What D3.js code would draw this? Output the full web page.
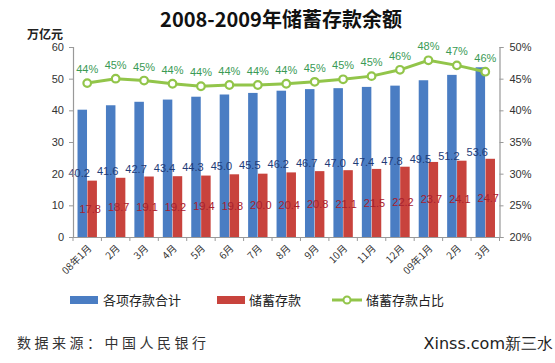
<!DOCTYPE html>
<html><head><meta charset="utf-8">
<script src="https://cdn.jsdelivr.net/npm/d3@7"></script>
<style>
body{margin:0;background:#fff;}
svg{display:block;font-family:"Liberation Sans",Arial,sans-serif;}
</style></head>
<body><svg id="c" width="555" height="363"></svg>
<script>
const categories = ["08年1月","2月","3月","4月","5月","6月","7月","8月","9月","10月","11月","12月","09年1月","2月","3月"];
const totalDeposits = [40.2,41.6,42.7,43.4,44.3,45.0,45.5,46.2,46.7,47.0,47.4,47.8,49.5,51.2,53.6];
const savingsDeposits = [17.8,18.7,19.1,19.2,19.4,19.8,20.0,20.4,20.8,21.1,21.5,22.2,23.7,24.1,24.7];
const savingsShare = [44.3,45.0,44.7,44.2,43.8,44.0,44.0,44.2,44.5,44.9,45.4,46.4,47.9,47.1,46.1];
const shareLabels = ["44%","45%","45%","44%","44%","44%","44%","44%","45%","45%","45%","46%","48%","47%","46%"];
const leftTicks = [0,10,20,30,40,50,60];
const rightTicks = [20,25,30,35,40,45,50];

const svg = d3.select("#c");
const L = 73, R = 499.5, T = 47, B = 237;
const idx = categories.map((c,i)=>i);
const x = d3.scaleBand().domain(idx).range([L,R]);
const yL = d3.scaleLinear().domain([0,60]).range([B,T]);
const yR = d3.scaleLinear().domain([20,50]).range([B,T]);
const blue = "#4A7DC3", red = "#C8433D", green = "#92C54A";
const bw = 9.5;
const cx = i => x(i)+x.bandwidth()/2;

// title
svg.append("text").attr("x",281).attr("y",27).attr("text-anchor","middle")
  .attr("font-family","'Noto Sans CJK SC',sans-serif").attr("font-weight","bold").attr("font-size",20)
  .attr("fill","#111").text("2008-2009年储蓄存款余额");
svg.append("text").attr("x",27).attr("y",39)
  .attr("font-family","'Noto Sans CJK SC',sans-serif").attr("font-weight","bold").attr("font-size",12)
  .attr("fill","#222").text("万亿元");

// bars
const g = svg.append("g");
g.selectAll(".b1").data(totalDeposits).join("rect")
  .attr("x",(d,i)=>cx(i)-bw-0.2).attr("width",bw)
  .attr("y",d=>yL(d)).attr("height",d=>yL(0)-yL(d)).attr("fill",blue);
g.selectAll(".b2").data(savingsDeposits).join("rect")
  .attr("x",(d,i)=>cx(i)+0.2).attr("width",bw)
  .attr("y",d=>yL(d)).attr("height",d=>yL(0)-yL(d)).attr("fill",red);

// bar labels
g.selectAll(".l1").data(totalDeposits).join("text")
  .attr("x",(d,i)=>cx(i)-8).attr("y",d=>yL(d/2)+4)
  .attr("text-anchor","middle").attr("font-size",11).attr("fill","#1E3C78")
  .text(d=>d.toFixed(1));
g.selectAll(".l2").data(savingsDeposits).join("text")
  .attr("x",(d,i)=>cx(i)+3).attr("y",d=>yL(d/2)+4)
  .attr("text-anchor","middle").attr("font-size",11).attr("fill","#A8202E")
  .text(d=>d.toFixed(1));

// axes
const axL = svg.append("g").attr("transform",`translate(${L},0)`)
  .call(d3.axisLeft(yL).tickValues(leftTicks).tickSize(4).tickPadding(5));
const axR = svg.append("g").attr("transform",`translate(${R},0)`)
  .call(d3.axisRight(yR).tickValues(rightTicks).tickFormat(d=>d+"%").tickSize(4).tickPadding(6));
const axX = svg.append("g").attr("transform",`translate(0,${B})`)
  .call(d3.axisBottom(x).tickSize(0).tickFormat(""));
[axL,axR,axX].forEach(a=>{
  a.selectAll("path").attr("stroke","#999").attr("stroke-width",1.2);
  a.selectAll("line").attr("stroke","#999");
  a.selectAll("text").attr("font-size",11).attr("fill","#333").attr("font-family","'Liberation Sans',Arial,sans-serif");
});
// x ticks between categories
axX.selectAll(".sep").data(idx.concat([categories.length])).join("line")
  .attr("x1",d=>L+d*x.bandwidth()).attr("x2",d=>L+d*x.bandwidth())
  .attr("y1",0).attr("y2",4).attr("stroke","#999");
// x labels rotated
svg.selectAll(".xl").data(categories).join("text")
  .attr("text-anchor","end").attr("font-size",10).attr("fill","#333")
  .attr("font-family","'Noto Sans CJK SC',sans-serif")
  .attr("transform",(d,i)=>`translate(${cx(i)+5},${B+12}) rotate(-45)`)
  .text(d=>d);

// line
svg.append("path").datum(savingsShare)
  .attr("d",d3.line().x((d,i)=>cx(i)).y(d=>yR(d)))
  .attr("fill","none").attr("stroke",green).attr("stroke-width",3);
svg.selectAll(".pt").data(savingsShare).join("circle")
  .attr("cx",(d,i)=>cx(i)).attr("cy",d=>yR(d)).attr("r",3.8)
  .attr("fill","#fff").attr("stroke",green).attr("stroke-width",2.2);
svg.selectAll(".pl").data(savingsShare).join("text")
  .attr("x",(d,i)=>cx(i)).attr("y",d=>yR(d)-10).attr("text-anchor","middle")
  .attr("font-size",11).attr("fill","#3A9A55")
  .text((d,i)=>shareLabels[i]);

// legend
const lg = svg.append("g").attr("font-family","'Noto Sans CJK SC',sans-serif").attr("font-size",13).attr("fill","#222");
lg.append("rect").attr("x",70).attr("y",296).attr("width",28).attr("height",8).attr("fill",blue);
lg.append("text").attr("x",103).attr("y",305).text("各项存款合计");
lg.append("rect").attr("x",217).attr("y",296).attr("width",28).attr("height",8).attr("fill",red);
lg.append("text").attr("x",249).attr("y",305).text("储蓄存款");
lg.append("line").attr("x1",332).attr("x2",362).attr("y1",300).attr("y2",300).attr("stroke",green).attr("stroke-width",3);
lg.append("circle").attr("cx",347).attr("cy",300).attr("r",3.5).attr("fill","#fff").attr("stroke",green).attr("stroke-width",2);
lg.append("text").attr("x",366).attr("y",305).text("储蓄存款占比");

// source
svg.append("text").attr("x",17).attr("y",348)
  .attr("font-family","'Noto Sans CJK SC',sans-serif").attr("font-size",14).attr("letter-spacing",3.5)
  .attr("fill","#333").text("数据来源：中国人民银行");
svg.append("text").attr("x",553).attr("y",349).attr("text-anchor","end")
  .attr("font-family","'DejaVu Sans',sans-serif").attr("font-size",16)
  .attr("fill","#222").text("Xinss.com新三水");
</script></body></html>
